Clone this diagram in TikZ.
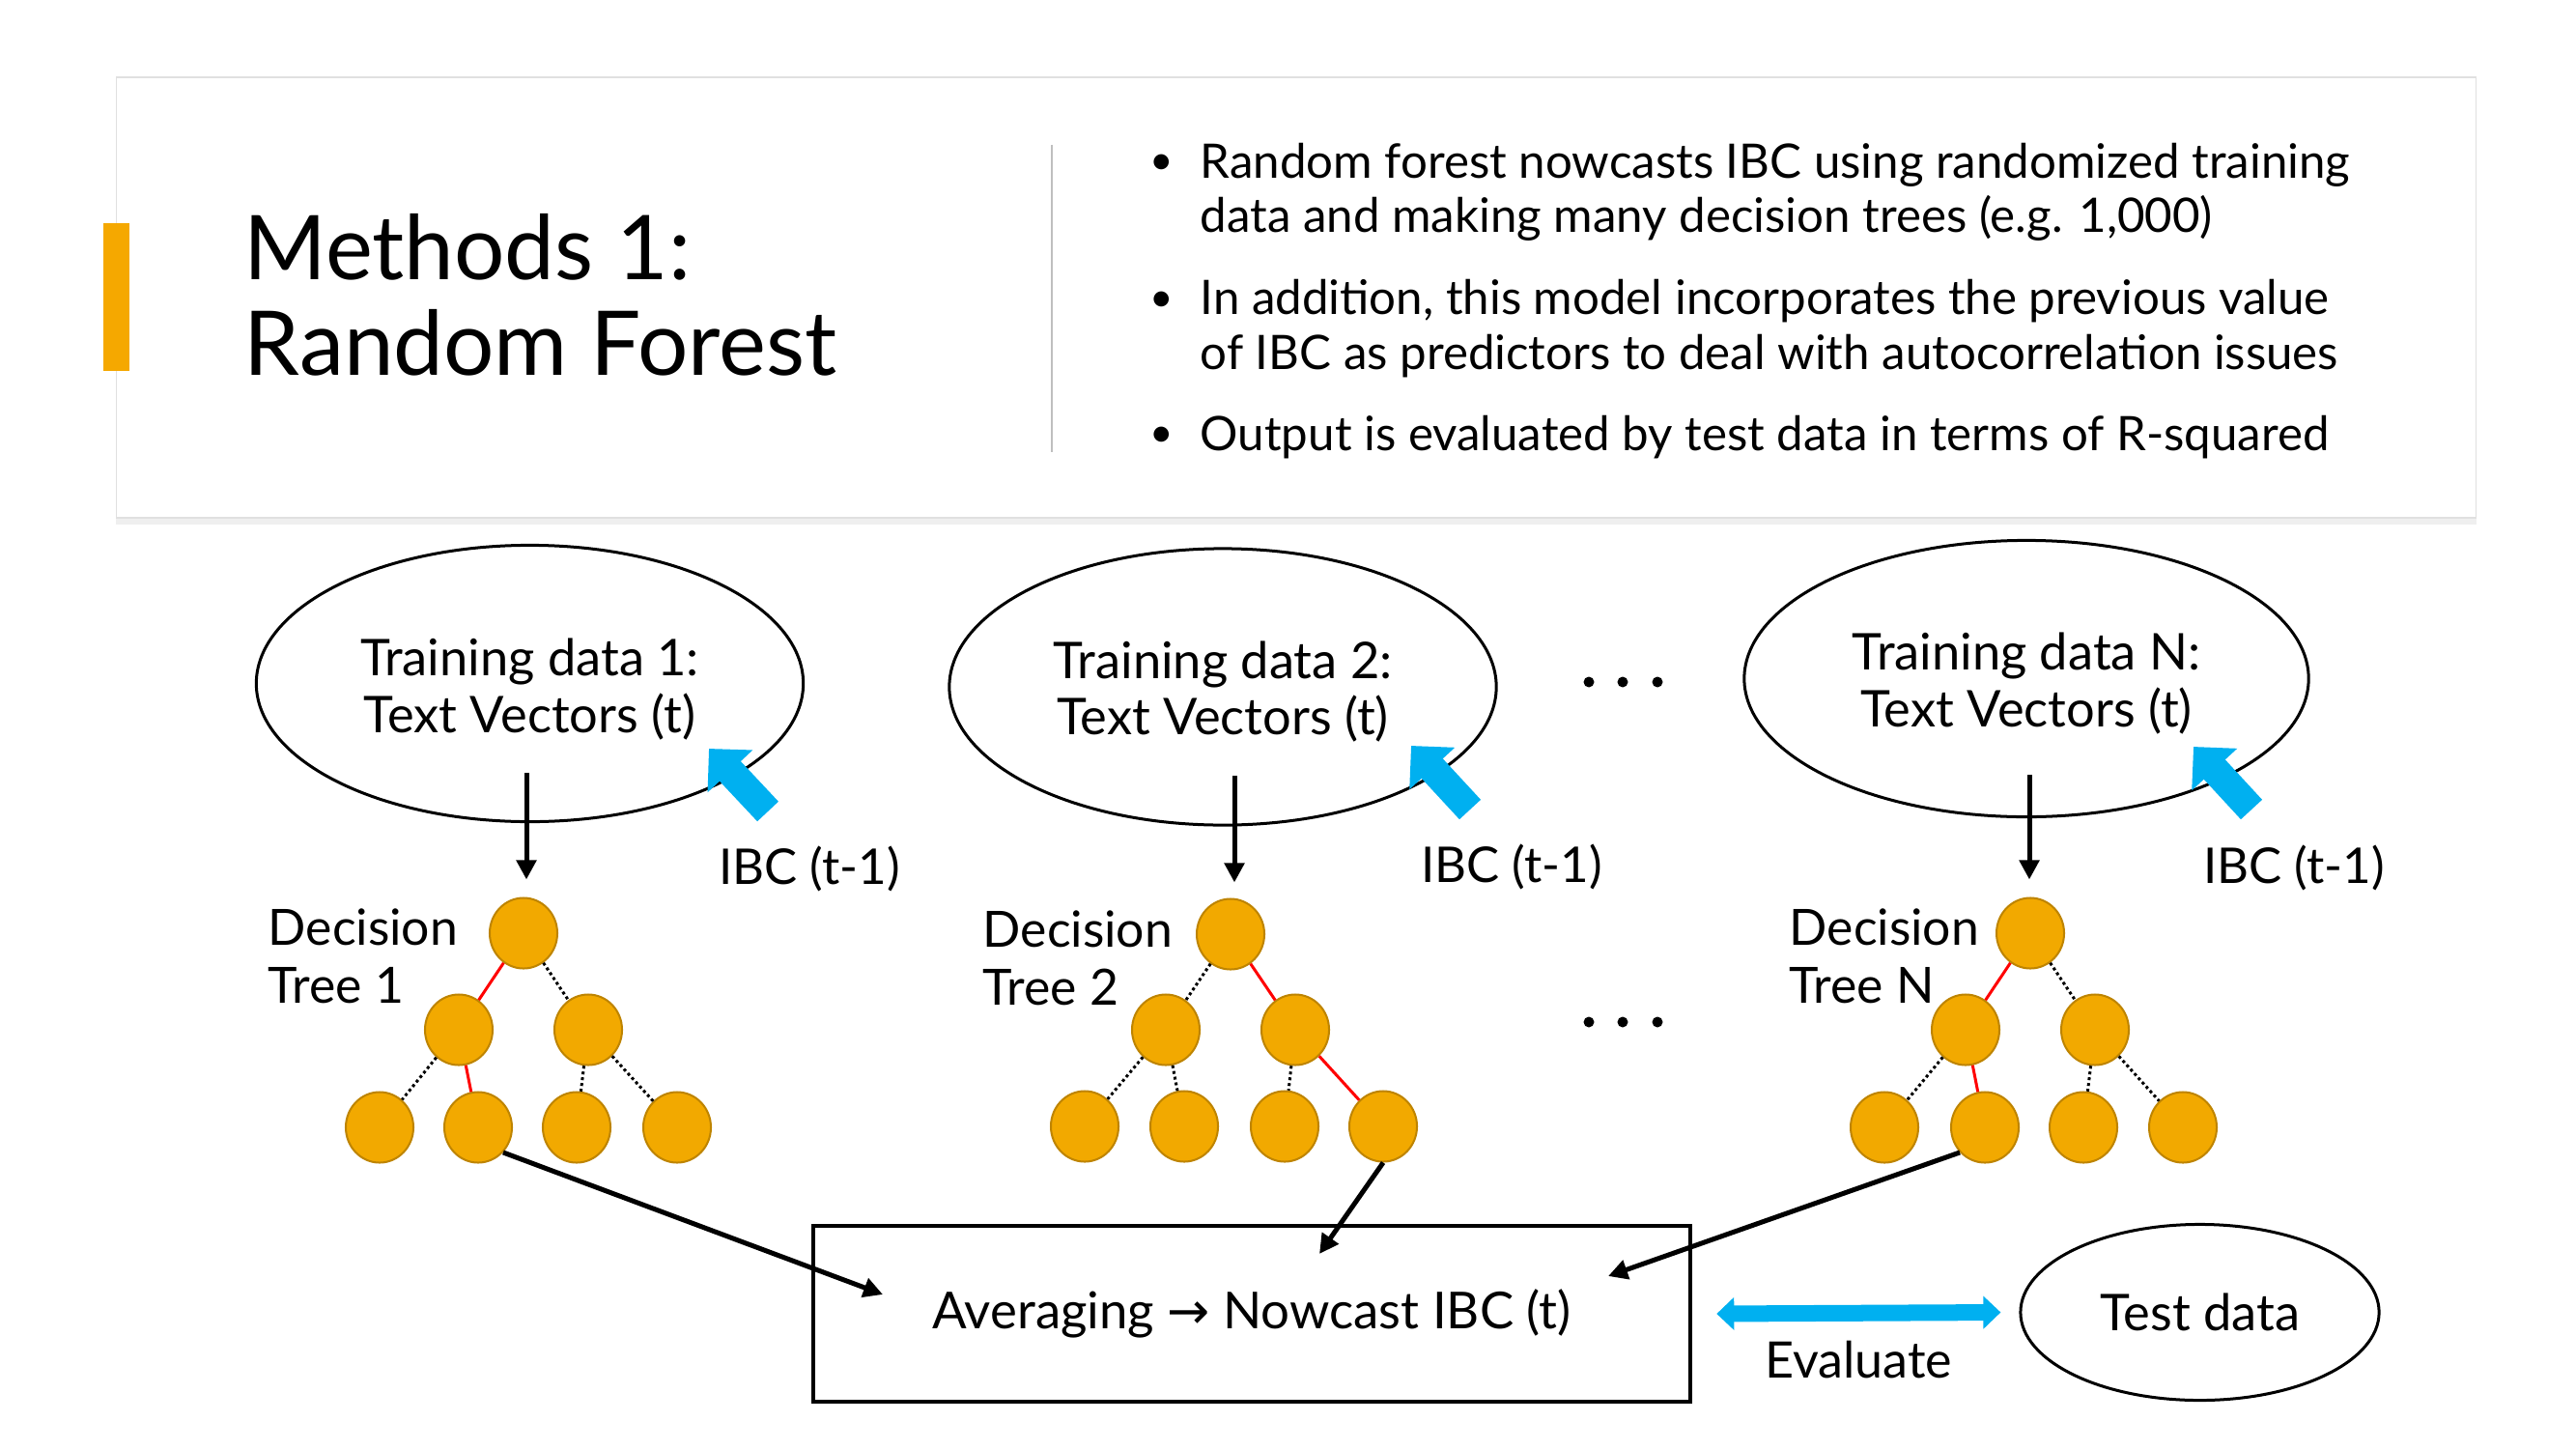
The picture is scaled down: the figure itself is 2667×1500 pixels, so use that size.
\documentclass[tikz,border=0pt]{standalone}
\usepackage{fontspec}
\setmainfont{Lato}
\newfontfamily\arrowfont{DejaVu Sans}
\usetikzlibrary{arrows.meta,shapes.geometric,shadows}
\definecolor{barorange}{RGB}{245,168,0}
\definecolor{treeorange}{RGB}{242,169,0}
\definecolor{treeedge}{RGB}{190,132,0}
\definecolor{ibcblue}{RGB}{0,176,240}
\begin{document}
\begin{tikzpicture}[x=0.01cm,y=-0.01cm,
  body/.style={font=\fontsize{14pt}{16.2pt}\selectfont, inner sep=0pt},
  ell/.style={draw, ellipse, line width=0.03cm, inner sep=0pt, align=center,
              font=\fontsize{14.9pt}{17.3pt}\selectfont},
  elltext/.style={align=center, inner sep=0pt, font=\fontsize{14.9pt}{16.6pt}\selectfont},
  tnode/.style={ellipse, minimum width=0.70cm, minimum height=0.73cm, inner sep=0pt,
                fill=treeorange, draw=treeedge, line width=0.02cm},
  redge/.style={red, line width=0.03cm},
  dedge/.style={black, line width=0.03cm, dash pattern=on 0.03cm off 0.03cm},
  blk/.style={line width=0.05cm, -{Triangle[length=0.2cm,width=0.2cm]}},
  ibc/.style={ibcblue, line width=0.3cm, -{Triangle[length=0.32cm,width=0.62cm]}},
  evalarr/.style={ibcblue, line width=0.17cm, {Triangle[length=0.18cm,width=0.33cm]}-{Triangle[length=0.18cm,width=0.33cm]}},
  dlabel/.style={font=\fontsize{14.7pt}{17pt}\selectfont, inner sep=0pt, align=left, anchor=base west},
  ibclabel/.style={font=\fontsize{14.5pt}{16pt}\selectfont, inner sep=0pt, anchor=base},
]
\useasboundingbox (0,0) rectangle (2667,1500);
\fill[white] (0,0) rectangle (2667,1500);

% ---------- top panel ----------
\node[draw=black!12, line width=0.015cm, fill=white, minimum width=24.42cm, minimum height=4.56cm,
      drop shadow={opacity=0.12, shadow xshift=0pt, shadow yshift=-2pt}] (panel) at (1342,308) {};
\fill[barorange] (107,231) rectangle (134,384);
\node[font=\fontsize{26.3pt}{28pt}\selectfont, inner sep=0pt, align=left, anchor=base west] (title) at (252,388)
  {Methods 1:\\Random Forest};
\coordinate (sepTop) at (1089,150);
\coordinate (sepBot) at (1089,468);
\draw[black!25, line width=0.012cm] (sepTop) -- (sepBot);

\node[body, font=\fontsize{12pt}{14pt}\selectfont] (bul1) at (1203,170) {•};
\node[body, font=\fontsize{12pt}{14pt}\selectfont] (bul2) at (1203,312) {•};
\node[body, font=\fontsize{12pt}{14pt}\selectfont] (bul3) at (1203,452) {•};
\node[body, align=left, anchor=base west] (item1) at (1242,241)
  {Random forest nowcasts IBC using randomized training\\data and making many decision trees (e.g. 1,000)};
\node[body, align=left, anchor=base west] (item2) at (1242,382)
  {In addition, this model incorporates the previous value\\of IBC as predictors to deal with autocorrelation issues};
\node[body, align=left, anchor=base west] (item3) at (1242,466)
  {Output is evaluated by test data in terms of R-squared};

% ---------- training ellipses ----------
\node[ell, minimum width=5.66cm, minimum height=2.86cm,
      label={[elltext, yshift=-0.06cm]center:{Training data 1:\\Text Vectors (t)}}] (e1) at (548.5,707.5) {};
\node[ell, minimum width=5.66cm, minimum height=2.86cm,
      label={[elltext, yshift=-0.05cm]center:{Training data 2:\\Text Vectors (t)}}] (e2) at (1266,711) {};
\node[ell, minimum width=5.84cm, minimum height=2.86cm,
      label={[elltext, yshift=-0.05cm]center:{Training data N:\\Text Vectors (t)}}] (e3) at (2098,702.5) {};

% dots
\foreach \xx in {1645,1680,1716} {
  \fill (\xx,706) circle[radius=0.055cm];
  \fill (\xx,1058) circle[radius=0.055cm];
}

% ---------- trees ----------
% tree 1
\node[tnode] (r1) at (542,966) {};
\node[tnode] (l1) at (475,1066) {};
\node[tnode] (m1) at (609,1066) {};
\node[tnode] (p1) at (393,1167) {};
\node[tnode] (q1) at (495,1167) {};
\node[tnode] (s1) at (597,1167) {};
\node[tnode] (u1) at (701,1167) {};
\draw[redge] (r1) -- (l1);
\draw[dedge] (r1) -- (m1);
\draw[dedge] (l1) -- (p1);
\draw[redge] (l1) -- (q1);
\draw[dedge] (m1) -- (s1);
\draw[dedge] (m1) -- (u1);
% tree 2
\node[tnode] (r2) at (1274,967) {};
\node[tnode] (l2) at (1207,1066) {};
\node[tnode] (m2) at (1341,1066) {};
\node[tnode] (p2) at (1123,1166) {};
\node[tnode] (q2) at (1226,1166) {};
\node[tnode] (s2) at (1330,1166) {};
\node[tnode] (u2) at (1432,1166) {};
\draw[dedge] (r2) -- (l2);
\draw[redge] (r2) -- (m2);
\draw[dedge] (l2) -- (p2);
\draw[dedge] (l2) -- (q2);
\draw[dedge] (m2) -- (s2);
\draw[redge] (m2) -- (u2);
% tree N
\node[tnode] (r3) at (2102,966) {};
\node[tnode] (l3) at (2035,1066) {};
\node[tnode] (m3) at (2169,1066) {};
\node[tnode] (p3) at (1951,1167) {};
\node[tnode] (q3) at (2055,1167) {};
\node[tnode] (s3) at (2157,1167) {};
\node[tnode] (u3) at (2260,1167) {};
\draw[redge] (r3) -- (l3);
\draw[dedge] (r3) -- (m3);
\draw[dedge] (l3) -- (p3);
\draw[redge] (l3) -- (q3);
\draw[dedge] (m3) -- (s3);
\draw[dedge] (m3) -- (u3);

% decision tree labels
\node[dlabel] (dt1) at (277,1038) {Decision\\Tree 1};
\node[dlabel] (dt2) at (1017,1040) {Decision\\Tree 2};
\node[dlabel] (dt3) at (1852,1038) {Decision\\Tree N};

% down arrows
\coordinate (d1) at (545,800);
\coordinate (d2) at (1278,803);
\coordinate (d3) at (2101,802);
\draw[blk, shorten >=0.18cm] (d1) -- (d1 |- r1.north);
\draw[blk, shorten >=0.16cm] (d2) -- (d2 |- r2.north);
\draw[blk, shorten >=0.18cm] (d3) -- (d3 |- r3.north);

% IBC arrows
\coordinate (i1) at (795,840);  \coordinate (j1) at (734,775);
\coordinate (i2) at (1522,838); \coordinate (j2) at (1461,772);
\coordinate (i3) at (2331,838); \coordinate (j3) at (2271,773);
\draw[ibc] (i1) -- (j1);
\draw[ibc] (i2) -- (j2);
\draw[ibc] (i3) -- (j3);
\node[ibclabel] (ibc1) at (838,915) {IBC (t-1)};
\node[ibclabel] (ibc2) at (1565,913) {IBC (t-1)};
\node[ibclabel] (ibc3) at (2375,914) {IBC (t-1)};

% ---------- bottom ----------
\node[draw, line width=0.04cm, minimum width=9.08cm, minimum height=1.82cm, inner sep=0pt,
      font=\fontsize{15pt}{17pt}\selectfont] (avg) at (1296,1360)
  {Averaging {\arrowfont →} Nowcast IBC (t)};
\coordinate (t1) at (914,1340);
\coordinate (t2) at (1366,1298);
\coordinate (t3) at (1665,1321);
\draw[blk] (q1.-45) -- (t1);
\draw[blk] (u2.south) -- (t2);
\draw[blk] (q3.-135) -- (t3);

\node[ell, minimum width=3.71cm, minimum height=1.82cm] (test) at (2277.5,1358.5) {Test data};
\draw[evalarr] ([xshift=0.25cm]avg.east) -- ([xshift=-0.19cm]test.west);
\node[ibclabel, font=\fontsize{14.8pt}{16pt}\selectfont] (evaltxt) at (1924,1426) {Evaluate};
\end{tikzpicture}
\end{document}
